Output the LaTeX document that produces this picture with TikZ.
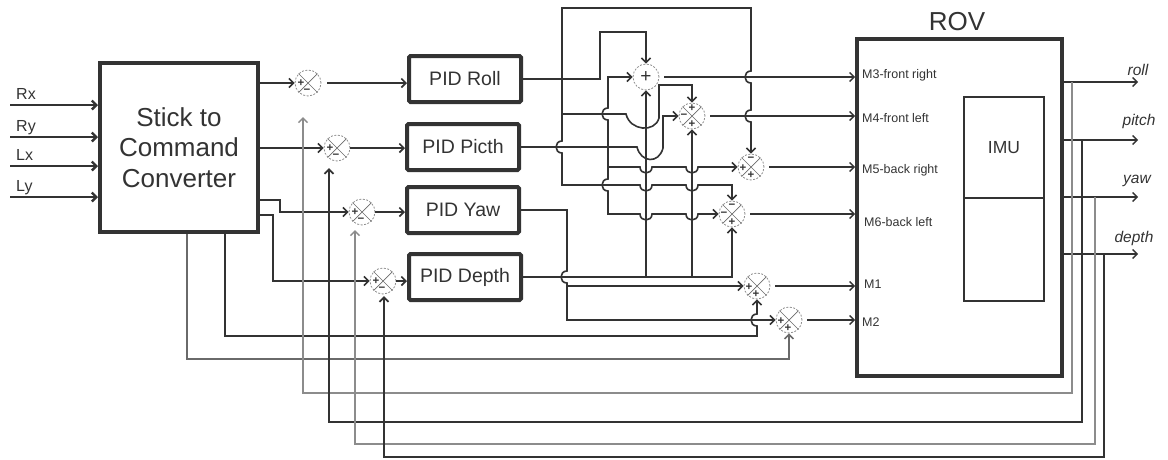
\documentclass[tikz,border=0pt]{standalone}
\usepackage{fontspec}
\setmainfont{Liberation Sans}
\usetikzlibrary{arrows.meta,calc}
\definecolor{ink}{HTML}{333333}
\definecolor{lg}{HTML}{8C8C8C}
\definecolor{mg}{HTML}{6A6A6A}
\tikzset{
  every node/.style={text=ink},
  >={Straight Barb[length=4.5pt,width=9pt]},
  wire/.style={draw=ink, line width=1.6pt},
  owire/.style={draw=ink, line width=1.4pt},
  inwire/.style={draw=ink, line width=2.4pt},
  lgwire/.style={draw=mg, line width=1.5pt},
  fbdark/.style={draw=ink, line width=1.8pt},
  fblight/.style={draw=lg, line width=1.5pt},
  convbox/.style={draw=ink, line width=4pt, minimum width=158pt, minimum height=169pt, inner sep=0pt, align=center, font=\fontsize{26}{30.5}\selectfont},
  blk/.style={draw=ink, line width=4pt, rounded corners=1.5pt, minimum width=112pt, minimum height=46pt, inner sep=0pt, font=\fontsize{19.5}{22}\selectfont},
  sumc/.style={circle, draw=lg, dash pattern=on 2pt off 1.5pt, line width=0.8pt, minimum size=26pt, inner sep=0pt},
  xline/.style={draw=mg, line width=0.7pt},
  sgn/.style={inner sep=0pt, font=\fontsize{11.5}{11.5}\selectfont\bfseries},
  mlbl/.style={anchor=west, inner sep=0pt, font=\fontsize{12.5}{14}\selectfont},
  olbl/.style={inner sep=0pt, font=\fontsize{15.5}{17}\selectfont\itshape},
  hj/.style args={#1,#2}{insert path={-- ({#1-6},#2) .. controls ({#1-6},{#2+8}) and ({#1+6},{#2+8}) .. ({#1+6},#2)}},
  vj/.style args={#1,#2}{insert path={-- (#1,{#2-6}) .. controls ({#1-8},{#2-6}) and ({#1-8},{#2+6}) .. (#1,{#2+6})}},
  vju/.style args={#1,#2}{insert path={-- (#1,{#2+6}) .. controls ({#1-8},{#2+6}) and ({#1-8},{#2-6}) .. (#1,{#2-6})}},
}
\newcommand\mysign[5]{\node[sgn] (#1) at ($(#2)+(#3,#4)$) {#5};}
\begin{document}
\begin{tikzpicture}[x=1pt,y=-1pt]
\useasboundingbox (0,0) rectangle (1168,459);

% ---------------- blocks
\node[convbox] (conv) at (179,147.5) {Stick to\\Command\\Converter};
\node[blk] (roll) at (465,79) {PID Roll};
\node[blk] (pitch) at (463,147) {PID Picth};
\node[blk] (yaw) at (463,210) {PID Yaw};
\node[blk] (depth) at (465,277) {PID Depth};

\node[draw=ink, line width=4pt, minimum width=205pt, minimum height=337pt, inner sep=0pt] (ROV) at (959.5,207.5) {};
\node[font=\fontsize{26}{28}\selectfont, inner sep=0pt] (rovl) at (957,22) {ROV};
\node[draw=ink, line width=2.4pt, minimum width=80pt, minimum height=101pt, inner sep=0pt, font=\fontsize{17.5}{19}\selectfont] (imu1) at (1004,147.5) {IMU};
\node[draw=ink, line width=2.4pt, minimum width=80pt, minimum height=103pt, inner sep=0pt] (imu2) at (1004,249.5) {};

\node[mlbl] (m3) at (862,75) {M3-front right};
\node[mlbl] (m4) at (862,118) {M4-front left};
\node[mlbl] (m5) at (862,170) {M5-back right};
\node[mlbl] (m6) at (864,222) {M6-back left};
\node[mlbl] (m1) at (864,284) {M1};
\node[mlbl] (m2) at (862,322) {M2};

% ---------------- summing junctions
\node[sumc] (S1) at (308,83) {};
\node[sumc] (S2) at (337,148) {};
\node[sumc] (S3) at (362,212) {};
\node[sumc] (S4) at (383,281) {};
\node[sumc] (A) at (646,77) {};
\node[sumc] (B) at (692,116) {};
\node[sumc] (C) at (751,167) {};
\node[sumc] (D) at (732,214) {};
\node[sumc] (E) at (757,286) {};
\node[sumc] (F) at (789,320) {};
\foreach \n in {S1,S2,S3,S4,B,C,D,E,F}{
  \draw[xline] (\n.north east) -- (\n.south west) (\n.north west) -- (\n.south east);
}
\node[inner sep=0pt, font=\fontsize{19}{19}\selectfont] (ap) at (A) {+};
\foreach \n in {S1,S2,S3,S4}{
  \mysign{\n p}{\n}{-7}{0}{+}
  \mysign{\n m}{\n}{-1}{8}{−}
}
\mysign{Bt}{B}{0}{-8}{+} \mysign{Bl}{B}{-8}{0}{−} \mysign{Bb}{B}{0}{8}{+}
\mysign{Ct}{C}{0}{-8}{−} \mysign{Cl}{C}{-8}{1}{+} \mysign{Cb}{C}{0}{8}{+}
\mysign{Dt}{D}{0}{-8}{−} \mysign{Dl}{D}{-8}{0}{−} \mysign{Db}{D}{0}{8}{+}
\mysign{El}{E}{-8}{1}{+} \mysign{Eb}{E}{-1}{8}{+}
\mysign{Fl}{F}{-8}{1}{+} \mysign{Fb}{F}{-1}{8}{+}

% ---------------- inputs
\foreach \y/\t/\n in {105/Rx/rx,137/Ry/ry,166/Lx/lx,197/Ly/ly}{
  \coordinate (in\n) at (10,\y);
  \draw[inwire,->] (in\n) -- (in\n -| conv.west);
  \node[anchor=base west, inner sep=0pt, font=\fontsize{16}{18}\selectfont] (l\n) at (16,\y-6) {\t};
}

% ---------------- converter to summing junctions
\draw[wire,->] (conv.east |- S1) -- (S1.west);
\draw[wire,->] (conv.east |- S2) -- (S2.west);
\draw[wire,->] (conv.east |- 0,200) -- (280,200) |- (S3.west);
\draw[wire,->] (conv.east |- 0,215) -- (273,215) |- (S4.west);

% ---------------- summing junctions to PIDs
\draw[wire,->] (S1.east) ++(6,0) -- (S1 -| roll.west);
\draw[wire,->] (S2.east) -- (S2 -| pitch.west);
\draw[wire,->] (S3.east) -- (S3 -| yaw.west);
\draw[wire,->] (S4.east) -- (S4 -| depth.west);

% ---------------- mixing network
% roll
\draw[wire,->] (roll.east) -- (600,79) -- (600,32) -| (A.north);
\draw[wire,->] (562,79) -- (562,8) -- (751,8) [vj={751,77}] [vj={751,116}] -- (C.north);
\draw[wire,->] (562,79) [vj={562,147}] -- (562,185) [hj={646,185}] [hj={692,185}] -- (732,185) -- (D.north);
\draw[wire,->] (562,114) -- (626,114) .. controls (630,131) and (655,133) .. (659,118) -- (659,85) -| (B.north);
% pitch
\draw[wire,->] (pitch.east) -- (637,147) .. controls (641,163) and (659,164) .. (663,148) -- (663,116) -- (B.west);
\draw[wire,->] (608,147) [vju={608,114}] -- (608,77) -- (A.west);
\draw[wire,->] (608,147) [vj={608,185}] -- (608,214) [hj={646,214}] [hj={692,214}] -- (D.west);
\draw[wire,->] (608,167) [hj={646,167}] [hj={692,167}] -- (C.west);
% depth
\draw[wire,->] (depth.east) -| (D.south);
\draw[wire,->] (A |- depth.east) -- (A.south);
\draw[wire,->] (B |- depth.east) -- (B.south);
% yaw
\draw[wire,->] (yaw.east) -- (567,210) [vj={567,277}] -- (567,286) -- (E.west);
\draw[wire,->] (567,286) |- (F.west);
% converter direct to M1 / M2
\draw[wire,->] (conv.south -| 225,0) -- (225,336) -- (757,336) [vju={757,320}] -- (E.south);
\draw[lgwire,->] (conv.south -| 187,0) |- (189,359) -| (F.south);

% ---------------- motor commands into ROV
\foreach \n in {A,B,C,D,E,F}{
  \draw[owire,->] (\n.east) ++(5,0) -- (\n -| ROV.west);
}

% ---------------- outputs and feedback
\coordinate (tR) at (1072,82);
\coordinate (tP) at (1082,140);
\coordinate (tY) at (1095,197);
\coordinate (tD) at (1104,254);
\draw[owire,->] (ROV.east |- tR) -- (1138,82);
\draw[owire,->] (ROV.east |- tP) -- (1138,140);
\draw[owire,->] (ROV.east |- tY) -- (1138,197);
\draw[owire,->] (ROV.east |- tD) -- (1138,254);
\node[olbl] (lroll) at (1138,70) {roll};
\node[olbl] (lpitch) at (1139,121) {pitch};
\node[olbl] (lyaw) at (1137,181) {yaw};
\node[olbl] (ldepth) at (1134,238) {depth};

\draw[fblight,->] (tR) -- (1072,393) -- (303,393) -- (303,117);
\draw[fbdark,->] (tP) -- (1082,422) -- (329,422) -- (329,168);
\draw[fblight,->] (tY) -- (1095,444) -- (355,444) -- (355,230);
\draw[fbdark,->] (tD) -- (1104,457) -- (384,457) -- (384,296);
\end{tikzpicture}
\end{document}
